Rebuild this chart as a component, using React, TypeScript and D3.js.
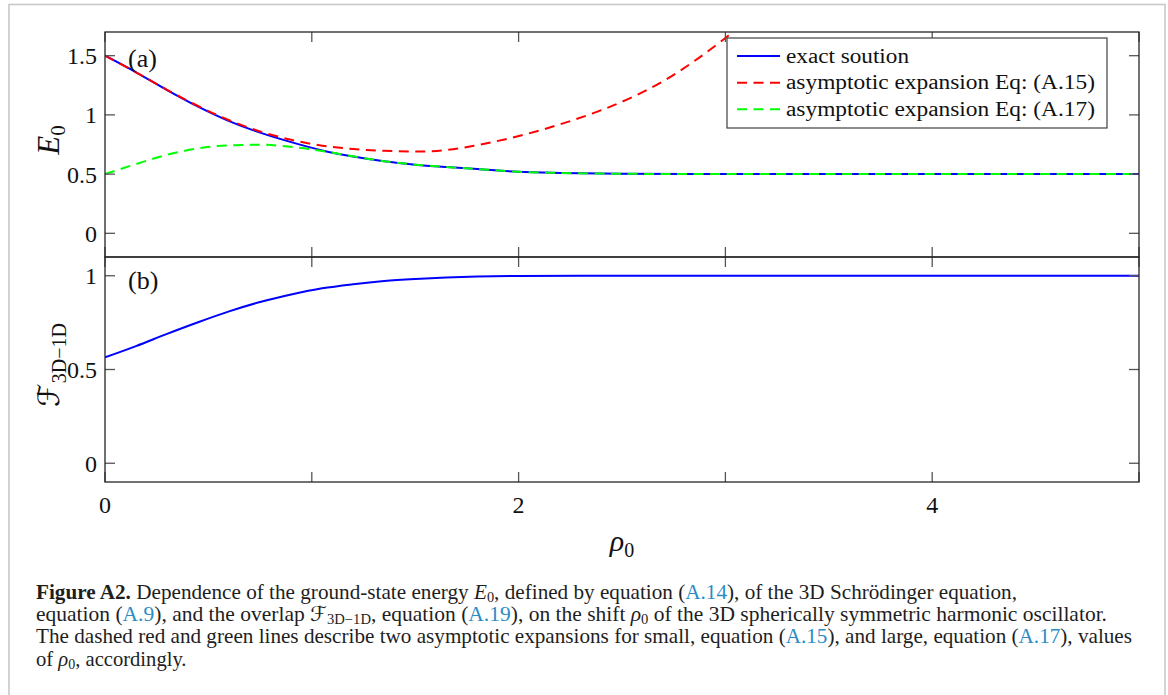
import React from "react";
import * as d3 from "d3";

// ---- data ----
const RHO_EXACT = [0, 0.15, 0.3, 0.45, 0.6, 0.75, 0.9, 1.05, 1.2, 1.35, 1.5, 1.65, 1.8, 2.0, 2.2, 2.5, 3, 4, 5];
const E_EXACT = [1.5, 1.36, 1.21, 1.07, 0.948, 0.85, 0.77, 0.70, 0.648, 0.608, 0.58, 0.56, 0.543, 0.52, 0.51, 0.503, 0.5, 0.5, 0.5];

const RHO_A15 = [0, 0.15, 0.3, 0.45, 0.6, 0.75, 0.9, 1.05, 1.2, 1.35, 1.5, 1.65, 1.8, 1.95, 2.1, 2.25, 2.4, 2.55, 2.7, 2.85, 3.0, 3.15];
const E_A15 = [1.5, 1.36, 1.212, 1.075, 0.955, 0.86, 0.79, 0.74, 0.712, 0.697, 0.69, 0.703, 0.745, 0.8, 0.868, 0.948, 1.04, 1.15, 1.285, 1.455, 1.65, 1.87];

const RHO_A17 = [0, 0.15, 0.3, 0.45, 0.6, 0.75, 0.9, 1.05, 1.2, 1.35, 1.5, 1.65, 1.8, 2.0, 2.2, 2.5, 3, 4, 5];
const E_A17 = [0.5, 0.585, 0.663, 0.717, 0.743, 0.748, 0.73, 0.695, 0.65, 0.609, 0.58, 0.56, 0.543, 0.52, 0.51, 0.503, 0.5, 0.5, 0.5];

const RHO_F = [0, 0.15, 0.3, 0.45, 0.6, 0.75, 0.9, 1.05, 1.2, 1.35, 1.5, 1.65, 1.8, 2.0, 2.3, 3, 4, 5];
const F_OVERLAP = [0.565, 0.625, 0.69, 0.752, 0.81, 0.86, 0.9, 0.933, 0.955, 0.972, 0.983, 0.991, 0.996, 0.999, 1, 1, 1, 1];

const X_TICKS = [0, 1, 2, 3, 4, 5];
const X_TICK_LABELS = [0, 2, 4];
const YA_TICKS = [0, 0.5, 1, 1.5];
const YB_TICKS = [0, 0.5, 1];
const LEGEND_LABELS = [
  "exact soution",
  "asymptotic expansion Eq: (A.15)",
  "asymptotic expansion Eq: (A.17)",
];

const W = 1168;
const H = 695;
const L = 105, R = 1139, TOP_A = 32, MID = 257, BOT_B = 482;
const SERIF = "'Liberation Serif', 'DejaVu Serif', serif";
const AX = "#262626";
const TICK = "#555";
const LINK = "#2b8cc4";

export default function App() {
  const x = d3.scaleLinear().domain([0, 5]).range([L, R]);
  const ya = d3.scaleLinear().domain([-0.2, 1.7]).range([MID, TOP_A]);
  const yb = d3.scaleLinear().domain([-0.1, 1.1]).range([BOT_B, MID]);

  const mk = (xs: number[], ys: number[], y: d3.ScaleLinear<number, number>) =>
    d3.line<number>().x((_, i) => x(xs[i])).y((v) => y(v)).curve(d3.curveMonotoneX)(ys) || "";

  const pExact = mk(RHO_EXACT, E_EXACT, ya);
  const pA15 = mk(RHO_A15, E_A15, ya);
  const pA17 = mk(RHO_A17, E_A17, ya);
  const pF = mk(RHO_F, F_OVERLAP, yb);

  const tl = 10;
  const legendX = 727, legendY = 38, legendW = 380, legendH = 90;
  const rowY = [56, 82.7, 109.3];
  const legendStyles = [
    { stroke: "#0000ff", dash: undefined },
    { stroke: "#ff0000", dash: "10,6.5" },
    { stroke: "#00ff00", dash: "10,6.5" },
  ];
  const legendWidths = [123, 309, 309];

  return (
    <svg width={W} height={H} style={{ position: "absolute", left: 0, top: 0, background: "#fff" }}>
      <defs>
        <clipPath id="clipA">
          <rect x={L} y={TOP_A} width={R - L} height={MID - TOP_A} />
        </clipPath>
        <clipPath id="clipB">
          <rect x={L} y={MID} width={R - L} height={BOT_B - MID} />
        </clipPath>
      </defs>
      <rect x={0} y={0} width={W} height={H} fill="#fff" />
      {/* page frame */}
      <rect x={9} y={4.5} width={1156} height={720} fill="none" stroke="#c8c8c8" strokeWidth={1.6} />

      {/* curves panel (a) */}
      <g clipPath="url(#clipA)" fill="none" strokeWidth={2}>
        <path d={pExact} stroke="#0000ff" />
        <path d={pA15} stroke="#ff0000" strokeDasharray="10,6.5" />
        <path d={pA17} stroke="#00ff00" strokeDasharray="10,6.5" />
      </g>
      {/* curve panel (b) */}
      <g clipPath="url(#clipB)" fill="none" strokeWidth={2}>
        <path d={pF} stroke="#0000ff" />
      </g>

      {/* ticks */}
      <g stroke={TICK} strokeWidth={1.3}>
        {X_TICKS.map((t) => (
          <g key={"xt" + t}>
            <line x1={x(t)} x2={x(t)} y1={TOP_A} y2={TOP_A + tl} />
            <line x1={x(t)} x2={x(t)} y1={MID} y2={MID - tl} />
            <line x1={x(t)} x2={x(t)} y1={MID} y2={MID + tl} />
            <line x1={x(t)} x2={x(t)} y1={BOT_B} y2={BOT_B - tl} />
          </g>
        ))}
        {YA_TICKS.map((t) => (
          <g key={"ya" + t}>
            <line x1={L} x2={L + tl} y1={ya(t)} y2={ya(t)} />
            <line x1={R} x2={R - tl} y1={ya(t)} y2={ya(t)} />
          </g>
        ))}
        {YB_TICKS.map((t) => (
          <g key={"yb" + t}>
            <line x1={L} x2={L + tl} y1={yb(t)} y2={yb(t)} />
            <line x1={R} x2={R - tl} y1={yb(t)} y2={yb(t)} />
          </g>
        ))}
      </g>

      {/* boxes */}
      <rect x={L} y={TOP_A} width={R - L} height={MID - TOP_A} fill="none" stroke={AX} strokeWidth={1.3} />
      <rect x={L} y={MID} width={R - L} height={BOT_B - MID} fill="none" stroke={AX} strokeWidth={1.3} />

      {/* tick labels */}
      <g fontFamily={SERIF} fontSize={24} fill="#111">
        {YA_TICKS.map((t) => (
          <text key={"yal" + t} x={L - 8} y={ya(t)} dy="0.35em" textAnchor="end">{String(t)}</text>
        ))}
        {YB_TICKS.map((t) => (
          <text key={"ybl" + t} x={L - 8} y={yb(t)} dy="0.35em" textAnchor="end">{String(t)}</text>
        ))}
        {X_TICK_LABELS.map((t) => (
          <text key={"xl" + t} x={x(t)} y={513} textAnchor="middle">{String(t)}</text>
        ))}
      </g>

      {/* panel labels */}
      <text x={128} y={67} fontFamily={SERIF} fontSize={26} fill="#111">(a)</text>
      <text x={128} y={289} fontFamily={SERIF} fontSize={26} fill="#111">(b)</text>

      {/* axis labels */}
      <text transform="translate(59,140) rotate(-90)" textAnchor="middle" fontFamily={SERIF} fontSize={31} fill="#111">
        <tspan fontStyle="italic">E</tspan>
        <tspan fontSize={21} dy={6}>0</tspan>
      </text>
      <text transform="translate(59,365) rotate(-90)" textAnchor="middle" fontFamily={SERIF} fontSize={30} fill="#111">
        <tspan fontFamily="'DejaVu Sans', serif" fontStyle="italic">ℱ</tspan>
        <tspan fontSize={20} dy={7}>3D−1D</tspan>
      </text>
      <text x={622} y={551} textAnchor="middle" fontFamily={SERIF} fontSize={30} fill="#111">
        <tspan fontStyle="italic">ρ</tspan>
        <tspan fontSize={20} dy={6}>0</tspan>
      </text>

      {/* legend */}
      <rect x={legendX} y={legendY} width={legendW} height={legendH} fill="#fff" stroke="#404040" strokeWidth={1.2} />
      {LEGEND_LABELS.map((lab, i) => (
        <g key={"lg" + i}>
          <line x1={737} x2={780} y1={rowY[i]} y2={rowY[i]} stroke={legendStyles[i].stroke} strokeWidth={2}
            strokeDasharray={legendStyles[i].dash} />
          <text x={786} y={rowY[i] + 6.5} fontFamily={SERIF} fontSize={20} fill="#111"
            textLength={legendWidths[i]} lengthAdjust="spacingAndGlyphs">{lab}</text>
        </g>
      ))}

      {/* caption */}
      <g fontFamily={SERIF} fontSize={20.6} fill="#1e1e1e">
        <text x={36} y={598.5} textLength={981} lengthAdjust="spacingAndGlyphs">
          <tspan fontWeight="bold">Figure A2.</tspan>
          <tspan> Dependence of the ground-state energy </tspan>
          <tspan fontStyle="italic">E</tspan>
          <tspan fontSize={14} dy={3}>0</tspan>
          <tspan dy={-3}>, defined by equation (</tspan>
          <tspan fill={LINK}>A.14</tspan>
          <tspan>), of the 3D Schrödinger equation,</tspan>
        </text>
        <text x={36} y={621} textLength={1071} lengthAdjust="spacingAndGlyphs">
          <tspan>equation (</tspan>
          <tspan fill={LINK}>A.9</tspan>
          <tspan>), and the overlap </tspan>
          <tspan fontFamily="'DejaVu Sans', serif" fontStyle="italic">ℱ</tspan>
          <tspan fontSize={14} dy={3}>3D−1D</tspan>
          <tspan dy={-3}>, equation (</tspan>
          <tspan fill={LINK}>A.19</tspan>
          <tspan>), on the shift </tspan>
          <tspan fontStyle="italic">ρ</tspan>
          <tspan fontSize={14} dy={3}>0</tspan>
          <tspan dy={-3}> of the 3D spherically symmetric harmonic oscillator.</tspan>
        </text>
        <text x={36} y={643.3} textLength={1096} lengthAdjust="spacingAndGlyphs">
          <tspan>The dashed red and green lines describe two asymptotic expansions for small, equation (</tspan>
          <tspan fill={LINK}>A.15</tspan>
          <tspan>), and large, equation (</tspan>
          <tspan fill={LINK}>A.17</tspan>
          <tspan>), values</tspan>
        </text>
        <text x={36} y={665.5}>
          <tspan>of </tspan>
          <tspan fontStyle="italic">ρ</tspan>
          <tspan fontSize={14} dy={3}>0</tspan>
          <tspan dy={-3}>, accordingly.</tspan>
        </text>
      </g>
    </svg>
  );
}
